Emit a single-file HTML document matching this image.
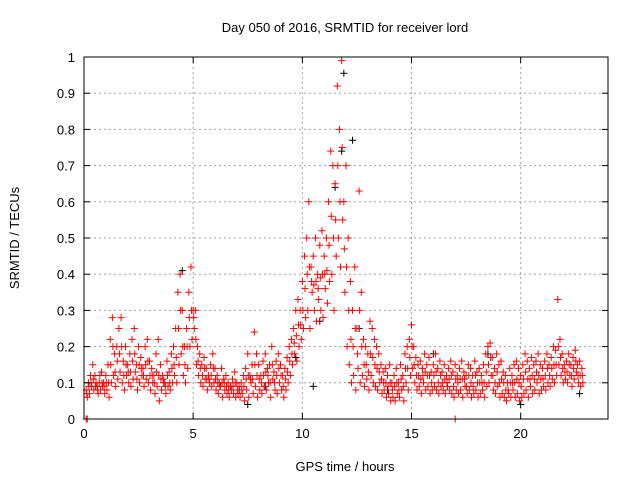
<!DOCTYPE html>
<html><head><meta charset="utf-8"><style>
body{margin:0;background:#fff}
svg text{font-family:"Liberation Sans",sans-serif;font-size:13px;fill:#000}
</style></head><body>
<svg id="chart" width="640" height="480" xmlns="http://www.w3.org/2000/svg">
<rect width="640" height="480" fill="#fff"/>
<g id="grid"></g><g id="marks"></g><g id="axes"></g>
<text x="345" y="32" text-anchor="middle">Day 050 of 2016, SRMTID for receiver lord</text>
<text x="345" y="471" text-anchor="middle">GPS time / hours</text>
<text transform="translate(19,238) rotate(-90)" text-anchor="middle">SRMTID / TECUs</text>
</svg>
<script>
const xTicks=[0,5,10,15,20];
const yTicks=[0,0.1,0.2,0.3,0.4,0.5,0.6,0.7,0.8,0.9,1];
const yTickLabels=["0","0.1","0.2","0.3","0.4","0.5","0.6","0.7","0.8","0.9","1"];
const redStart=0.1, redStep=0.1;
const redA=[0.08,0.1,0.12,0.15,0.12,0.09,0.1,0.13,0.1,0.12,
0.15,0.22,0.28,0.18,0.2,0.25,0.28,0.16,0.2,0.15,
0.18,0.22,0.25,0.15,0.2,0.17,0.14,0.2,0.22,0.16,
0.14,0.12,0.18,0.22,0.15,0.12,0.1,0.16,0.13,0.18,
0.2,0.25,0.35,0.4,0.3,0.2,0.25,0.35,0.42,0.3,
0.3,0.2,0.18,0.15,0.17,0.14,0.12,0.15,0.18,0.14,
0.12,0.1,0.14,0.11,0.12,0.1,0.09,0.11,0.13,0.1,
0.09,0.1,0.12,0.14,0.18,0.12,0.15,0.24,0.18,0.15,
0.12,0.16,0.18,0.14,0.15,0.2,0.13,0.16,0.18,0.15,
0.12,0.14,0.17,0.2,0.22,0.25,0.3,0.33,0.3,0.38,
0.45,0.5,0.6,0.42,0.45,0.5,0.4,0.48,0.52,0.45,
0.5,0.6,0.74,0.7,0.65,0.92,0.8,0.99,0.6,0.7,
0.5,0.38,0.3,0.42,0.25,0.63,0.35,0.22,0.2,0.18,
0.27,0.25,0.22,0.2,0.18,0.15,0.13,0.14,0.12,0.15,
0.1,0.12,0.14,0.1,0.15,0.12,0.18,0.2,0.22,0.26,
0.2,0.17,0.15,0.16,0.14,0.18,0.15,0.17,0.13,0.15,
0.18,0.14,0.16,0.13,0.15,0.12,0.14,0.16,0.13,0.15,
0.12,0.14,0.16,0.13,0.12,0.15,0.14,0.12,0.16,0.13,
0.14,0.12,0.15,0.18,0.2,0.21,0.17,0.14,0.18,0.15,
0.16,0.13,0.12,0.1,0.14,0.12,0.15,0.16,0.14,0.12,
0.15,0.18,0.16,0.14,0.17,0.15,0.16,0.18,0.15,0.14,
0.16,0.18,0.15,0.17,0.2,0.19,0.33,0.22,0.18,0.15,
0.16,0.18,0.15,0.17,0.19,0.15,0.16,0.14];
const redB=[0.06,0.07,0.09,0.08,0.1,0.07,0.08,0.09,0.07,0.08,
0.06,0.1,0.12,0.09,0.11,0.13,0.1,0.08,0.12,0.1,
0.09,0.11,0.13,0.08,0.1,0.12,0.09,0.11,0.1,0.08,
0.1,0.07,0.09,0.05,0.08,0.1,0.07,0.09,0.08,0.1,
0.12,0.1,0.15,0.18,0.12,0.1,0.14,0.2,0.22,0.25,
0.15,0.12,0.1,0.09,0.11,0.08,0.1,0.09,0.1,0.08,
0.07,0.09,0.06,0.08,0.07,0.06,0.08,0.07,0.06,0.07,
0.06,0.07,0.05,0.08,0.06,0.1,0.07,0.09,0.06,0.08,
0.07,0.09,0.08,0.1,0.06,0.11,0.08,0.07,0.1,0.08,
0.06,0.08,0.1,0.12,0.15,0.18,0.16,0.2,0.22,0.25,
0.28,0.3,0.25,0.35,0.3,0.27,0.33,0.3,0.28,0.36,
0.32,0.38,0.4,0.3,0.45,0.5,0.42,0.55,0.35,0.2,
0.15,0.1,0.12,0.08,0.14,0.1,0.12,0.09,0.11,0.08,
0.12,0.1,0.09,0.08,0.1,0.07,0.08,0.06,0.07,0.05,
0.06,0.05,0.07,0.06,0.08,0.05,0.1,0.08,0.12,0.14,
0.1,0.08,0.09,0.07,0.1,0.08,0.09,0.07,0.08,0.09,
0.08,0.07,0.09,0.08,0.07,0.09,0.08,0.07,0.06,0.08,
0.07,0.08,0.06,0.09,0.07,0.08,0.06,0.07,0.08,0.06,
0.07,0.08,0.06,0.09,0.1,0.12,0.08,0.07,0.09,0.06,
0.07,0.06,0.05,0.07,0.06,0.08,0.06,0.07,0.05,0.06,
0.07,0.08,0.06,0.09,0.07,0.08,0.1,0.07,0.08,0.09,
0.08,0.1,0.09,0.11,0.1,0.12,0.15,0.12,0.1,0.11,
0.1,0.12,0.09,0.11,0.13,0.1,0.09,0.1];
const redC=[0.07,0.09,0.1,0.11,0.09,0.08,0.12,0.1,0.09,0.1,
0.1,0.15,0.2,0.13,0.16,0.18,0.2,0.12,0.15,0.13,
0.13,0.16,0.18,0.11,0.15,0.14,0.12,0.15,0.16,0.12,
0.12,0.1,0.13,0.12,0.11,0.11,0.09,0.12,0.1,0.14,
0.15,0.17,0.25,0.3,0.2,0.15,0.2,0.28,0.3,0.28,
0.22,0.16,0.14,0.12,0.14,0.11,0.11,0.12,0.14,0.11,
0.1,0.09,0.1,0.1,0.09,0.08,0.09,0.09,0.1,0.08,
0.08,0.08,0.09,0.11,0.12,0.11,0.11,0.15,0.12,0.11,
0.1,0.12,0.13,0.12,0.1,0.15,0.1,0.12,0.14,0.12,
0.09,0.11,0.13,0.16,0.18,0.21,0.23,0.26,0.26,0.3,
0.36,0.4,0.42,0.38,0.37,0.38,0.36,0.39,0.4,0.4,
0.41,0.48,0.56,0.5,0.55,0.7,0.6,0.75,0.47,0.42,
0.3,0.22,0.2,0.25,0.18,0.3,0.2,0.15,0.15,0.13,
0.18,0.17,0.15,0.14,0.13,0.11,0.1,0.1,0.09,0.1,
0.08,0.09,0.1,0.08,0.11,0.09,0.14,0.14,0.17,0.2,
0.15,0.12,0.12,0.11,0.12,0.13,0.12,0.12,0.1,0.12,
0.13,0.1,0.12,0.1,0.11,0.1,0.11,0.12,0.09,0.11,
0.1,0.11,0.11,0.11,0.09,0.12,0.1,0.09,0.12,0.1,
0.1,0.1,0.1,0.13,0.15,0.17,0.12,0.1,0.13,0.1,
0.11,0.1,0.08,0.08,0.1,0.1,0.1,0.11,0.1,0.09,
0.11,0.13,0.11,0.11,0.12,0.11,0.13,0.12,0.11,0.11,
0.12,0.14,0.12,0.14,0.15,0.15,0.2,0.17,0.14,0.13,
0.13,0.15,0.12,0.14,0.16,0.12,0.12,0.12];
const outT=[0.1,0.15,17.0];
const outV=[0,0,0];
const blackT=[4.5,11.9,12.3,11.8,11.5,10.8,12.6,9.7,18.5,13.9,8.3,20,22.7,7.5,16,10.5];
const blackV=[0.41,0.955,0.77,0.74,0.64,0.27,0.25,0.17,0.18,0.08,0.09,0.04,0.07,0.04,0.18,0.09];

const L=84,R=608,T=57,B=419,XMAX=24;
const xs=v=>L+v/XMAX*(R-L);
const ys=v=>B-v*(B-T);
const NS="http://www.w3.org/2000/svg";
function mk(tag,attrs,parent){const e=document.createElementNS(NS,tag);for(const k in attrs)e.setAttribute(k,attrs[k]);parent.appendChild(e);return e;}
const grid=document.getElementById('grid'),axes=document.getElementById('axes'),marks=document.getElementById('marks');
yTicks.forEach((v,i)=>{
  const y=ys(v);
  if(i>0&&i<yTicks.length-1){const g=mk('line',{x1:L,x2:R,y1:y,y2:y,stroke:'#a0a0a0','stroke-dasharray':'2,3'},grid);
  
  }
  mk('line',{x1:L,x2:L+6,y1:y,y2:y,stroke:'#000'},axes);
  mk('line',{x1:R,x2:R-6,y1:y,y2:y,stroke:'#000'},axes);
  const t=mk('text',{x:L-9,y:y+5,'text-anchor':'end'},axes);t.textContent=yTickLabels[i];
  
  
});
xTicks.forEach(v=>{
  const x=xs(v);
  if(v>0){const g=mk('line',{x1:x,x2:x,y1:T,y2:B,stroke:'#a0a0a0','stroke-dasharray':'2,3'},grid);
  
  }
  mk('line',{x1:x,x2:x,y1:B,y2:B-6,stroke:'#000'},axes);
  mk('line',{x1:x,x2:x,y1:T,y2:T+6,stroke:'#000'},axes);
  const t=mk('text',{x:x,y:B+19,'text-anchor':'middle'},axes);t.textContent=String(v);
  
  
});
const frame=mk('rect',{x:L,y:T,width:R-L,height:B-T,fill:'none',stroke:'#000'},axes);


function plus(t,v,col,name){
  const x=xs(t),y=ys(v);
  const p=mk('path',{d:`M${x-3.5},${y}h7M${x},${y-3.5}v7`,stroke:col,'stroke-width':1,fill:'none'},marks);
  
  
}
blackT.forEach((t,i)=>plus(t,blackV[i],'#000','black-point'));
redA.forEach((v,i)=>plus(redStart+i*redStep,v,'#f00','red-point'));
redB.forEach((v,i)=>plus(redStart+i*redStep+0.05,v,'#f00','red-point'));
redC.forEach((v,i)=>plus(redStart+i*redStep+0.025,v,'#f00','red-point'));
outT.forEach((t,i)=>plus(t,outV[i],'#f00','red-point'));
</script>
</body></html>
